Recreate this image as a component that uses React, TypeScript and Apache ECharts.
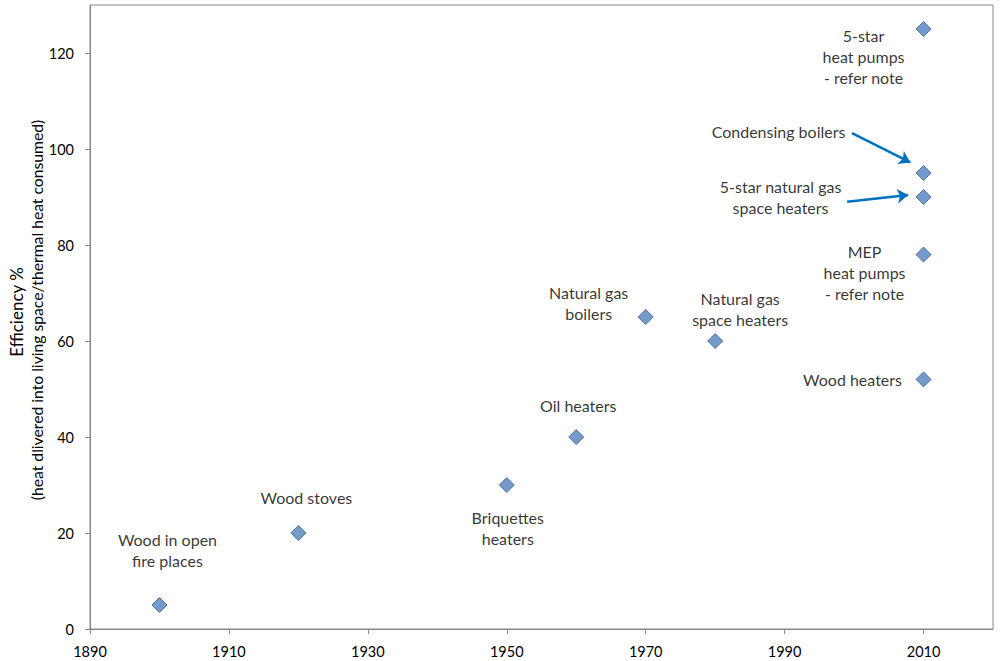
import React, { useEffect, useRef } from "react";
import * as echarts from "echarts";

// ---- data ----
const years = [1900, 1920, 1950, 1960, 1970, 1980, 2010, 2010, 2010, 2010, 2010];
const efficiency = [5, 20, 30, 40, 65, 60, 125, 95, 90, 78, 52];
const names = [
  "Wood in open\nfire places",
  "Wood stoves",
  "Briquettes\nheaters",
  "Oil heaters",
  "Natural gas\nboilers",
  "Natural gas\nspace heaters",
  "5-star\nheat pumps\n- refer note",
  "Condensing boilers",
  "5-star natural gas\nspace heaters",
  "MEP\nheat pumps\n- refer note",
  "Wood heaters",
];
const xTicks = [1890, 1910, 1930, 1950, 1970, 1990, 2010];
const yTicks = [0, 20, 40, 60, 80, 100, 120];
// arrow annotation endpoints (data space)
const arrowFrom = [
  [1999.7, 103.3],
  [1999.0, 89.0],
];
const arrowTo = [
  [2008.1, 97.2],
  [2007.8, 90.4],
];

// ---- layout (label offsets from point centre, px) ----
const labelOffsets = [
  [8, -55],
  [8, -36],
  [1, 43],
  [2, -32],
  [-57, -14],
  [25, -32],
  [-60, 27],
  [-145, -42],
  [-143, 0],
  [-59, 18],
  [-71, 0],
];

const FONT = "Lato, 'Open Sans', sans-serif";

export default function App() {
  const ref = useRef<HTMLDivElement>(null);
  useEffect(() => {
    if (!ref.current) return;
    const chart = echarts.init(ref.current, undefined, { renderer: "svg" });
    const scatterData = years.map((y, i) => ({
      value: [y, efficiency[i]],
      name: names[i],
      label: {
        show: true,
        position: "inside",
        offset: labelOffsets[i],
        formatter: names[i],
      },
    }));
    chart.setOption({
      animation: false,
      backgroundColor: "#ffffff",
      grid: {
        left: 90,
        right: 7,
        top: 5,
        bottom: 32,
        show: true,
        borderColor: "#868686",
        borderWidth: 1,
        containLabel: false,
        outerBoundsMode: "none",
      },
      xAxis: {
        type: "value",
        min: 1890,
        max: 2020,
        interval: 20,
        axisLine: { show: true, lineStyle: { color: "#868686" } },
        axisTick: { show: true, length: 5, lineStyle: { color: "#868686" }, customValues: xTicks },
        splitLine: { show: false },
        axisLabel: {
          customValues: xTicks,
          formatter: (v: number) => (xTicks.indexOf(v) >= 0 ? String(v) : ""),
          color: "#000",
          fontFamily: FONT,
          fontSize: 14.5,
          margin: 15,
        },
      },
      yAxis: {
        type: "value",
        min: 0,
        max: 130,
        interval: 20,
        axisLine: { show: true, lineStyle: { color: "#868686" } },
        axisTick: { show: true, length: 5, lineStyle: { color: "#868686" }, customValues: yTicks },
        splitLine: { show: false },
        axisLabel: {
          customValues: yTicks,
          formatter: (v: number) => (yTicks.indexOf(v) >= 0 ? String(v) : ""),
          color: "#000",
          fontFamily: FONT,
          fontSize: 14.5,
          margin: 16,
        },
      },
      graphic: [
        {
          type: "text",
          x: 16,
          y: 312,
          rotation: Math.PI / 2,
          style: {
            text: "Efficiency %",
            fill: "#000",
            font: `17px ${FONT}`,
            textAlign: "center",
            textVerticalAlign: "middle",
          },
        },
        {
          type: "text",
          x: 37,
          y: 310,
          rotation: Math.PI / 2,
          style: {
            text: "(heat dlivered into living space/thermal heat consumed)",
            fill: "#000",
            font: `15.7px ${FONT}`,
            textAlign: "center",
            textVerticalAlign: "middle",
          },
        },
      ],
      series: [
        {
          type: "scatter",
          symbol: "diamond",
          symbolSize: 15,
          itemStyle: { color: "#4F81BD", borderColor: "#3B5A8F", borderWidth: 1 },
          label: {
            color: "#000",
            fontFamily: FONT,
            fontSize: 16,
            lineHeight: 21,
            align: "center",
            verticalAlign: "middle",
          },
          data: scatterData,
          z: 3,
        },
        {
          type: "lines",
          coordinateSystem: "cartesian2d",
          symbol: ["none", "arrow"],
          symbolSize: [0, 11],
          lineStyle: { color: "#0070C0", width: 2.5, opacity: 1, curveness: 0 },
          data: arrowFrom.map((f, i) => ({ coords: [f, arrowTo[i]] })),
          z: 2,
        },
      ],
    });
    return () => chart.dispose();
  }, []);
  return (
    <div
      ref={ref}
      style={{ position: "fixed", left: 0, top: 0, width: 1000, height: 661, background: "#fff" }}
    />
  );
}
